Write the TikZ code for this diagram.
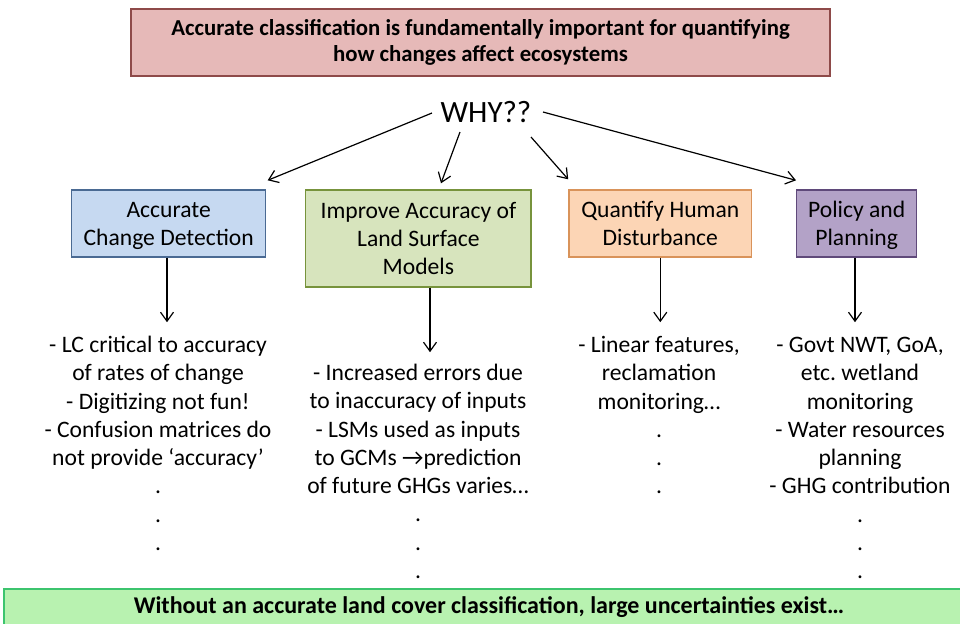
\documentclass[tikz,border=0pt]{standalone}
\usepackage{fontspec}
\setmainfont{Carlito}
\frenchspacing
\usetikzlibrary{arrows.meta,calc}

\definecolor{hdrfill}{HTML}{E6B9B8}
\definecolor{hdrdraw}{HTML}{8E4A49}
\definecolor{cdfill}{HTML}{C6D9F1}
\definecolor{cddraw}{HTML}{4A6A93}
\definecolor{lsfill}{HTML}{D7E4BD}
\definecolor{lsdraw}{HTML}{77933C}
\definecolor{hdfill}{HTML}{FCD5B5}
\definecolor{hddraw}{HTML}{D9935A}
\definecolor{ppfill}{HTML}{B3A2C7}
\definecolor{ppdraw}{HTML}{5F497A}
\definecolor{ftfill}{HTML}{B8F2B0}
\definecolor{ftdraw}{HTML}{3CC46E}

% a slightly taller strut for the first line of the two-line boxes
\newcommand\tallstrut{\rule{0pt}{12.4pt}}

\begin{document}
\begin{tikzpicture}[x=0.5pt,y=-0.5pt,
  banner/.style={draw, line width=0.7pt, inner sep=0pt, align=center},
  topic/.style={draw, line width=0.7pt, inner sep=0pt, align=center,
    font=\fontsize{11.8}{14.15}\selectfont},
  notes/.style={anchor=north, inner sep=0pt, align=center,
    font=\fontsize{11.8}{14.15}\selectfont},
  arr/.style={line width=0.6pt, -{Straight Barb[length=4.5pt,width=6.5pt]}}]
\useasboundingbox (0,0) rectangle (960,623);

% headline and question
\node[banner, fill=hdrfill, draw=hdrdraw, minimum width=349.5pt, minimum height=33.5pt,
  font=\fontsize{11.4}{13}\selectfont\bfseries]
  (head) at (480.5,42.5)
  {Accurate classification is fundamentally important for quantifying\\how changes affect ecosystems};
\node[font=\fontsize{15.5}{18}\selectfont, inner sep=0pt] (why) at (486,112) {WHY??};

% the four reasons
\node[topic, fill=cdfill, draw=cddraw, minimum width=97pt, minimum height=33.5pt]
  (b1) at (168.7,223.5) {\tallstrut Accurate\\\strut Change Detection};
\node[topic, fill=lsfill, draw=lsdraw, minimum width=112.7pt, minimum height=48.5pt]
  (b2) at (418.4,238.5) {Improve Accuracy of\\Land Surface\\Models};
\node[topic, fill=hdfill, draw=hddraw, minimum width=91.4pt, minimum height=33.5pt]
  (b3) at (660.3,223.5) {\tallstrut Quantify Human\\\strut Disturbance};
\node[topic, fill=ppfill, draw=ppdraw, minimum width=60pt, minimum height=33.5pt]
  (b4) at (856.7,223.5) {\tallstrut Policy and\\\strut Planning};

% notes under each reason
\node[notes] (c1) at (158,332.2) {\strut- LC critical to accuracy\\of rates of change\\- Digitizing not fun!\\- Confusion matrices do\\not provide ‘accuracy’\\.\\.\\.};
\node[notes] (c2) at (418,360.2) {\strut- Increased errors due\\to inaccuracy of inputs\\- LSMs used as inputs\\to GCMs →prediction\\of future GHGs varies…\\.\\.\\.};
\node[notes] (c3) at (659,332.2) {\strut- Linear features,\\reclamation\\monitoring…\\.\\.\\.};
\node[notes] (c4) at (860,332.2) {\strut- Govt NWT, GoA,\\etc. wetland\\monitoring\\- Water resources\\planning\\- GHG contribution\\.\\.\\.};

% conclusion
\node[banner, fill=ftfill, draw=ftdraw, minimum width=485pt, minimum height=18pt,
  font=\fontsize{12}{14}\selectfont\bfseries]
  (foot) at (489,607) {Without an accurate land cover classification, large uncertainties exist…};

% arrows fanning out from the question
\coordinate (s1) at ($(why.center)+(-54,1)$);
\coordinate (s2) at ($(why.center)+(-26,20)$);
\coordinate (s3) at ($(why.center)+(45,25)$);
\coordinate (s4) at ($(why.center)+(57,0)$);
\coordinate (t1) at ($(b1.north east)+(1.3,-9)$);
\coordinate (t2) at ($(b2.north)+(22.6,-6)$);
\coordinate (t3) at ($(b3.north west)+(0,-10)$);
\coordinate (t4) at ($(b4.north west)+(0,-9)$);
\draw[arr] (s1) -- (t1);
\draw[arr] (s2) -- (t2);
\draw[arr] (s3) -- (t3);
\draw[arr] (s4) -- (t4);

% arrows down to the notes
\coordinate (d1) at ($(b1.south)+(-1.7,0)$);
\coordinate (d2) at ($(b2.south)+(11.6,0)$);
\coordinate (d3) at (b3.south);
\coordinate (d4) at ($(b4.south)+(-1.7,0)$);
\coordinate (e1) at (d1 |- c1.north);
\coordinate (e2) at (d2 |- c2.north);
\coordinate (e3) at (d3 |- c3.north);
\coordinate (e4) at (d4 |- c4.north);
\draw[arr, shorten >=5pt] (d1) -- (e1);
\draw[arr, shorten >=4pt] (d2) -- (e2);
\draw[arr, shorten >=5pt] (d3) -- (e3);
\draw[arr, shorten >=5pt] (d4) -- (e4);
\end{tikzpicture}
\end{document}
